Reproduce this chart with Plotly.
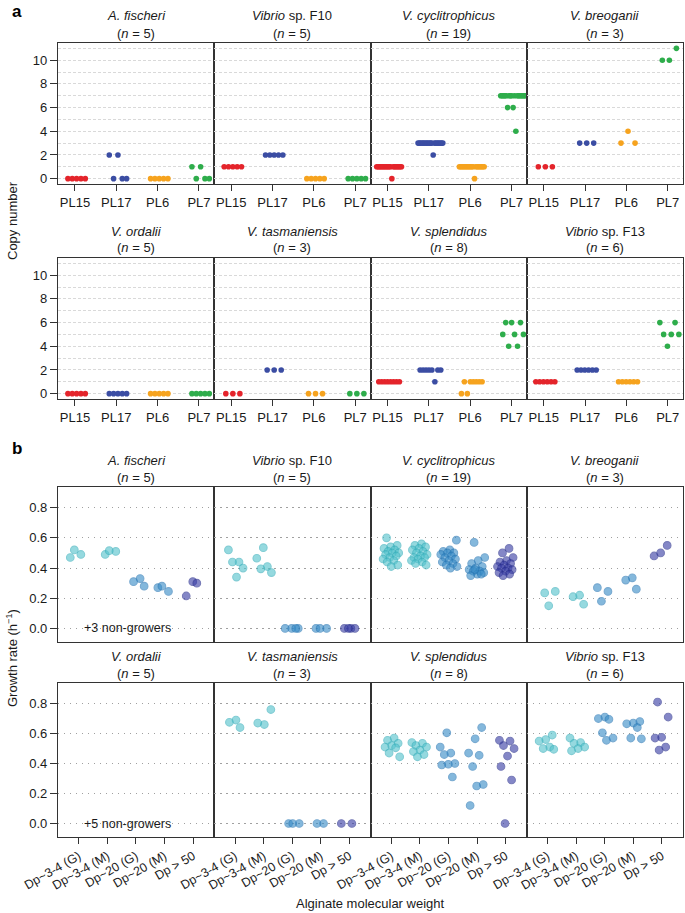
import plotly.graph_objects as go

W, H = 685, 913
FONT = "Liberation Sans, Arial, sans-serif"
TXT = "#1a1a1a"
FRAME = "#333333"

# ---------------- data ----------------
species_titles = ["<i>A. fischeri</i>", "<i>Vibrio</i> sp. F10", "<i>V. cyclitrophicus</i>", "<i>V. breoganii</i>",
                  "<i>V. ordalii</i>", "<i>V. tasmaniensis</i>", "<i>V. splendidus</i>", "<i>Vibrio</i> sp. F13"]
species_n = [5, 5, 19, 3, 5, 3, 8, 6]

plasmids = ["PL15", "PL17", "PL6", "PL7"]
plasmid_colors = ["#E4242B", "#3B4DA3", "#F6A31E", "#2EAD4B"]

# copy numbers: per species, per plasmid, one value per strain (strain order kept)
cn_fischeri = [[0, 0, 0, 0, 0], [2, 0, 2, 0, 0], [0, 0, 0, 0, 0], [1, 0, 1, 0, 0]]
cn_f10 = [[1, 1, 1, 1, 1], [2, 2, 2, 2, 2], [0, 0, 0, 0, 0], [0, 0, 0, 0, 0]]
cn_cyclitrophicus = [
    [1, 1, 1, 1, 1, 1, 1, 1, 1, 1, 1, 0, 1, 1, 1, 1, 1, 1, 1],
    [3, 3, 3, 3, 3, 3, 3, 3, 3, 3, 3, 2, 3, 3, 3, 3, 3, 3, 3],
    [1, 1, 1, 1, 1, 1, 1, 1, 1, 1, 1, 0, 1, 1, 1, 1, 1, 1, 1],
    [7, 7, 7, 7, 7, 6, 7, 7, 7, 6, 7, 4, 7, 7, 7, 7, 7, 7, 7],
]
cn_breoganii = [[1, 1, 1], [3, 3, 3], [3, 4, 3], [10, 10, 11]]
cn_ordalii = [[0, 0, 0, 0, 0], [0, 0, 0, 0, 0], [0, 0, 0, 0, 0], [0, 0, 0, 0, 0]]
cn_tasmaniensis = [[0, 0, 0], [2, 2, 2], [0, 0, 0], [0, 0, 0]]
cn_splendidus = [[1, 1, 1, 1, 1, 1, 1, 1], [2, 2, 2, 2, 2, 1, 2, 2],
                 [0, 1, 0, 1, 1, 1, 1, 1], [5, 6, 4, 6, 5, 4, 6, 5]]
cn_f13 = [[1, 1, 1, 1, 1, 1], [2, 2, 2, 2, 2, 2], [1, 1, 1, 1, 1, 1], [6, 5, 4, 5, 6, 5]]
copy_numbers = [cn_fischeri, cn_f10, cn_cyclitrophicus, cn_breoganii,
                cn_ordalii, cn_tasmaniensis, cn_splendidus, cn_f13]

substrates = ["Dp~3-4 (G)", "Dp~3-4 (M)", "Dp~20 (G)", "Dp~20 (M)", "Dp > 50"]
substrate_fill = ["#55C3CD", "#55C3CD", "#3A8DC8", "#3A8DC8", "#3A3FA6"]
substrate_line = ["#36AEBA", "#36AEBA", "#2676B4", "#2676B4", "#262C8C"]

gr_fischeri = [[0.47, 0.49, 0.52], [0.49, 0.51, 0.515], [0.33, 0.31, 0.28],
               [0.27, 0.245, 0.28], [0.31, 0.215, 0.30]]
gr_f10 = [[0.52, 0.44, 0.44, 0.40, 0.34], [0.535, 0.465, 0.41, 0.395, 0.37],
          [0.0, 0.0, 0.0, 0.0], [0.0, 0.0, 0.0], [0.0, 0.0, 0.0, 0.0]]
gr_cyclitrophicus = [
    [0.60, 0.55, 0.54, 0.53, 0.52, 0.51, 0.50, 0.50, 0.49, 0.48, 0.47, 0.46, 0.45, 0.44, 0.42, 0.41],
    [0.56, 0.55, 0.54, 0.53, 0.52, 0.51, 0.50, 0.49, 0.48, 0.47, 0.47, 0.46, 0.45, 0.44, 0.43, 0.42],
    [0.585, 0.52, 0.51, 0.50, 0.50, 0.49, 0.48, 0.47, 0.46, 0.45, 0.44, 0.43, 0.42, 0.41, 0.40],
    [0.57, 0.47, 0.45, 0.43, 0.41, 0.40, 0.39, 0.38, 0.38, 0.37, 0.36, 0.35, 0.36, 0.39],
    [0.53, 0.50, 0.47, 0.45, 0.44, 0.43, 0.42, 0.41, 0.40, 0.40, 0.39, 0.38, 0.37, 0.36, 0.35],
]
gr_breoganii = [[0.235, 0.245, 0.15], [0.22, 0.21, 0.16], [0.27, 0.245, 0.18],
                [0.335, 0.32, 0.26], [0.55, 0.50, 0.48]]
gr_ordalii = [[], [], [], [], []]
gr_tasmaniensis = [[0.69, 0.675, 0.64], [0.76, 0.66, 0.67], [0.0, 0.0, 0.0], [0.0, 0.0], [0.0, 0.0]]
gr_splendidus = [
    [0.57, 0.555, 0.535, 0.52, 0.51, 0.505, 0.47, 0.445],
    [0.54, 0.535, 0.52, 0.51, 0.49, 0.48, 0.46, 0.445],
    [0.605, 0.51, 0.47, 0.46, 0.40, 0.395, 0.39, 0.31],
    [0.64, 0.565, 0.47, 0.455, 0.38, 0.26, 0.25, 0.12],
    [0.555, 0.55, 0.52, 0.50, 0.45, 0.38, 0.29, 0.0],
]
gr_f13 = [
    [0.59, 0.56, 0.55, 0.51, 0.50, 0.495],
    [0.57, 0.54, 0.535, 0.51, 0.50, 0.485],
    [0.71, 0.70, 0.695, 0.605, 0.57, 0.555],
    [0.68, 0.67, 0.665, 0.64, 0.57, 0.565],
    [0.81, 0.71, 0.575, 0.57, 0.51, 0.49],
]
growth = [gr_fischeri, gr_f10, gr_cyclitrophicus, gr_breoganii,
          gr_ordalii, gr_tasmaniensis, gr_splendidus, gr_f13]
non_growers = {0: "+3 non-growers", 4: "+5 non-growers"}

# ---------------- layout geometry (pixels) ----------------
X0, PW = 58, 156.25
rows_px = [(43, 184), (258, 399), (487, 642), (683, 837)]  # a1, a2, b1, b2


def xdom(c):
    return [(X0 + c * PW) / W, (X0 + (c + 1) * PW) / W]


def ydom(r):
    t, b = rows_px[r]
    return [1 - b / H, 1 - t / H]


def py(p):
    return 1 - p / H


fig = go.Figure()
layout = {}
annotations = []


def band_width(n):
    return {3: 0.34, 5: 0.42, 6: 0.46, 8: 0.5, 19: 0.6}[n]


ax = 0
for r in range(4):
    is_a = r < 2
    for c in range(4):
        ax += 1
        sp = (r % 2) * 4 + c
        xa = "x" if ax == 1 else f"x{ax}"
        ya = "y" if ax == 1 else f"y{ax}"
        if is_a:
            data = copy_numbers[sp]
            n = species_n[sp]
            w = band_width(n)
            for k, vals in enumerate(data):
                m = len(vals)
                offs = [(-w / 2 + w * i / (m - 1)) + 0.04 for i in range(m)]
                fig.add_trace(go.Scatter(
                    x=[k + 1 + o for o in offs], y=vals, mode="markers",
                    marker=dict(size=5.6, color=plasmid_colors[k], line=dict(width=0)),
                    xaxis=xa, yaxis=ya, showlegend=False, hoverinfo="skip", cliponaxis=False))
        else:
            data = growth[sp]
            for k, vals in enumerate(data):
                offs = [(((i * 0.618034 + 0.37 * k + 0.11 * sp) % 1.0) - 0.5) * 0.6 for i in range(len(vals))]
                fig.add_trace(go.Scatter(
                    x=[k + 1 + o for o in offs], y=vals, mode="markers",
                    marker=dict(size=7.6, color=substrate_fill[k], opacity=0.62,
                                line=dict(width=1.1, color=substrate_line[k])),
                    xaxis=xa, yaxis=ya, showlegend=False, hoverinfo="skip"))

        # axes
        xkey = "xaxis" if ax == 1 else f"xaxis{ax}"
        ykey = "yaxis" if ax == 1 else f"yaxis{ax}"
        base_line = dict(showline=True, linecolor=FRAME, linewidth=1.3, mirror=True,
                         zeroline=False, fixedrange=True, automargin=False)
        if is_a:
            xax = dict(domain=xdom(c), range=[0.59, 4.37], anchor=ya,
                       tickmode="array", tickvals=[1, 2, 3, 4], ticktext=plasmids,
                       ticks="outside", ticklen=6, tickcolor=FRAME, tickwidth=1.2,
                       showgrid=False, tickfont=dict(size=13, color=TXT, family=FONT), **base_line)
            yax = dict(domain=ydom(r), range=[-0.45, 11.45], anchor=xa,
                       tickmode="array", tickvals=[0, 2, 4, 6, 8, 10],
                       showgrid=True, gridcolor="#d9d9d9", griddash="3px,2px", gridwidth=0.8,
                       minor=dict(tickmode="array", tickvals=[1, 3, 5, 7, 9, 11], showgrid=True,
                                  gridcolor="#d9d9d9", griddash="3px,2px", gridwidth=0.8, ticks=""),
                       tickfont=dict(size=13, color=TXT, family=FONT), **base_line)
        else:
            bottom = r == 3
            xax = dict(domain=xdom(c), range=[0.27, 5.74], anchor=ya,
                       tickmode="array", tickvals=[1, 2, 3, 4, 5], ticktext=substrates,
                       showticklabels=bottom, ticks="outside" if bottom else "",
                       ticklen=6, tickcolor=FRAME, tickwidth=1.2, tickangle=-30,
                       showgrid=False, tickfont=dict(size=12.5, color=TXT, family=FONT), **base_line)
            yax = dict(domain=ydom(r), range=[-0.09, 0.937], anchor=xa,
                       tickmode="array", tickvals=[0, 0.2, 0.4, 0.6, 0.8],
                       ticktext=["0.0", "0.2", "0.4", "0.6", "0.8"],
                       showgrid=True, gridcolor="#a0a0a0", griddash="1.4px,4.6px", gridwidth=1.4,
                       tickfont=dict(size=13, color=TXT, family=FONT), **base_line)
        if c == 0:
            yax.update(ticks="outside", ticklen=7, tickcolor=FRAME, tickwidth=1.2, showticklabels=True)
        else:
            yax.update(ticks="", showticklabels=False)
        layout[xkey] = xax
        layout[ykey] = yax

        # titles
        cx = (X0 + (c + 0.5) * PW) / W
        top = rows_px[r][0]
        annotations.append(dict(x=cx, y=py(top - 27), xref="paper", yref="paper",
                                text=species_titles[sp], showarrow=False,
                                font=dict(size=13, color=TXT, family=FONT),
                                xanchor="center", yanchor="middle"))
        annotations.append(dict(x=cx, y=py(top - 10), xref="paper", yref="paper",
                                text=f"(<i>n</i> = {species_n[sp]})", showarrow=False,
                                font=dict(size=13, color=TXT, family=FONT),
                                xanchor="center", yanchor="middle"))
        if (not is_a) and sp in non_growers:
            annotations.append(dict(x=2.72, y=0.0, xref=xa, yref=ya,
                                    text=non_growers[sp], showarrow=False,
                                    font=dict(size=12.5, color=TXT, family=FONT),
                                    xanchor="center", yanchor="middle"))

# panel letters and axis titles
annotations += [
    dict(x=10 / W, y=py(12), xref="paper", yref="paper", text="<b>a</b>", showarrow=False,
         font=dict(size=17, color="#000", family=FONT), xanchor="left", yanchor="middle"),
    dict(x=10 / W, y=py(448), xref="paper", yref="paper", text="<b>b</b>", showarrow=False,
         font=dict(size=17, color="#000", family=FONT), xanchor="left", yanchor="middle"),
    dict(x=12 / W, y=py(221), xref="paper", yref="paper", text="Copy number", showarrow=False,
         textangle=-90, font=dict(size=13, color=TXT, family=FONT), xanchor="center", yanchor="middle"),
    dict(x=12 / W, y=py(658), xref="paper", yref="paper", text="Growth rate (h<sup>\u22121</sup>)",
         showarrow=False, textangle=-90, font=dict(size=13, color=TXT, family=FONT),
         xanchor="center", yanchor="middle"),
    dict(x=(X0 + 2 * PW) / W, y=py(903), xref="paper", yref="paper", text="Alginate molecular weight",
         showarrow=False, font=dict(size=13, color=TXT, family=FONT), xanchor="center", yanchor="middle"),
]

fig.update_layout(width=W, height=H, margin=dict(l=0, r=0, t=0, b=0, autoexpand=False),
                  paper_bgcolor="white", plot_bgcolor="white",
                  font=dict(family=FONT, color=TXT), annotations=annotations, **layout)

fig.write_html("out.html", config={"displayModeBar": False},
               post_script="document.body.style.margin='0px';document.body.style.padding='0px';")
